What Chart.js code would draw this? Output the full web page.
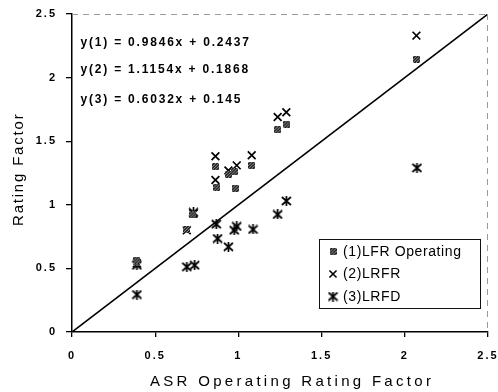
<!DOCTYPE html>
<html><head><meta charset="utf-8">
<script src="https://cdn.jsdelivr.net/npm/chart.js@4.4.1/dist/chart.umd.min.js"></script>
<style>html,body{margin:0;padding:0;background:#fff}#wrap{width:498px;height:392px;position:relative}</style>
</head><body><div id="wrap"><canvas id="c"></canvas></div>
<script>
// ---- data ----
const seriesNames = ['(1)LFR Operating', '(2)LRFR', '(3)LRFD'];
const lfrX = [0.39, 0.39, 0.687, 0.727, 0.862, 0.871, 0.94, 0.975, 0.98, 1.08, 1.236, 1.292, 2.07];
const lfrY = [0.55, 0.565, 0.806, 0.92, 1.30, 1.137, 1.24, 1.26, 1.13, 1.31, 1.59, 1.635, 2.145];
const lrfrX = [0.39, 0.69, 0.73, 0.862, 0.862, 0.94, 0.99, 1.08, 1.236, 1.288, 2.07];
const lrfrY = [0.54, 0.80, 0.93, 1.195, 1.382, 1.27, 1.31, 1.39, 1.69, 1.727, 2.33];
const lrfdX = [0.39, 0.39, 0.69, 0.737, 0.73, 0.867, 0.875, 0.94, 0.975, 0.99, 1.088, 1.236, 1.288, 2.073];
const lrfdY = [0.294, 0.525, 0.512, 0.525, 0.94, 0.848, 0.735, 0.67, 0.80, 0.83, 0.806, 0.924, 1.03, 1.29];
const lineX = [0, 2.5];
const lineY = [0, 2.5];
const tickLabels = ['0', '0.5', '1', '1.5', '2', '2.5'];
const equations = ['y(1) = 0.9846x + 0.2437', 'y(2) = 1.1154x + 0.1868', 'y(3) = 0.6032x + 0.145'];
const xTitle = 'ASR Operating Rating Factor';
const yTitle = 'Rating Factor';

const pts = (xs, ys) => xs.map((x, i) => ({x, y: ys[i]}));

// ---- marker images ----
function mk(w, h, draw) { const c = document.createElement('canvas'); c.width = w; c.height = h; draw(c.getContext('2d')); return c; }
const lfrMarker = mk(7, 7, g => {
  g.fillStyle = '#222'; g.fillRect(0, 0, 7, 7);
  g.fillStyle = '#999';
  for (let i = 0; i < 7; i++) for (let j = 0; j < 7; j++) if ((i + j) % 3 === 0) g.fillRect(i, j, 1, 1);
});
const lrfdMarker = mk(11, 10, g => {
  g.strokeStyle = '#000'; g.lineWidth = 1.7; g.lineCap = 'butt';
  g.beginPath();
  g.moveTo(1, 1); g.lineTo(10, 9);
  g.moveTo(10, 1); g.lineTo(1, 9);
  g.moveTo(5.5, 0); g.lineTo(5.5, 10);
  g.stroke();
});

// ---- decorations plugin ----
const deco = {
  id: 'deco',
  beforeDraw(chart) { chart.ctx.letterSpacing = '2px'; },
  afterDraw(chart) {
    const ctx = chart.ctx, a = chart.chartArea;
    ctx.save();
    // faint dashed top/right frame
    ctx.strokeStyle = '#9a9a9a'; ctx.lineWidth = 1; ctx.setLineDash([6, 5]);
    ctx.beginPath(); ctx.moveTo(a.left, a.top + 0.5); ctx.lineTo(a.right, a.top + 0.5);
    ctx.moveTo(a.right - 0.5, a.top); ctx.lineTo(a.right - 0.5, a.bottom); ctx.stroke();
    ctx.setLineDash([]);
    // equations
    ctx.fillStyle = '#000'; ctx.font = 'bold 12px "Liberation Sans", Arial, sans-serif';
    ctx.letterSpacing = '1.8px'; ctx.textBaseline = 'middle'; ctx.textAlign = 'left';
    const eqY = [42.7, 69.3, 100];
    equations.forEach((t, i) => ctx.fillText(t, 80.5, eqY[i]));
    // legend
    ctx.strokeStyle = '#111'; ctx.lineWidth = 1;
    ctx.strokeRect(319.5, 239.5, 161, 69);
    ctx.font = '14px "Liberation Sans", Arial, sans-serif'; ctx.letterSpacing = '0.6px';
    const ly = [251.5, 274, 296.5];
    seriesNames.forEach((n, i) => {
      const ds = chart.data.datasets[i];
      const ps = ds.pointStyle;
      if (ps instanceof HTMLCanvasElement) ctx.drawImage(ps, 333 - ps.width / 2, ly[i] - ps.height / 2);
      else { ctx.strokeStyle = '#000'; ctx.lineWidth = 1.6; Chart.helpers.drawPoint(ctx, {pointStyle: ps, radius: 5, borderWidth: 1.6}, 333, ly[i]); }
      ctx.fillStyle = '#000'; ctx.fillText(n, 343, ly[i] + 0.5);
    });
    // axis titles
    ctx.font = '15px "Liberation Sans", Arial, sans-serif'; ctx.letterSpacing = '3.3px';
    ctx.fillText(xTitle, 150, 381.5);
    ctx.save(); ctx.translate(18.8, 226); ctx.rotate(-Math.PI / 2);
    ctx.letterSpacing = '1.8px';
    ctx.fillText(yTitle, 0, 0);
    ctx.restore();
    ctx.restore();
    ctx.letterSpacing = '0px';
  }
};

const tickCb = function(v) { const i = Math.round(v / 0.5); return tickLabels[i]; };
const tickFont = { family: '"Liberation Sans", Arial, sans-serif', size: 11, weight: 'bold' };

new Chart(document.getElementById('c'), {
  type: 'scatter',
  data: {
    datasets: [
      { label: seriesNames[0], data: pts(lfrX, lfrY), pointStyle: lfrMarker, pointRadius: 4, backgroundColor: '#333', borderColor: '#333' },
      { label: seriesNames[1], data: pts(lrfrX, lrfrY), pointStyle: 'crossRot', pointRadius: 5.5, borderWidth: 1.7, backgroundColor: '#000', borderColor: '#000' },
      { label: seriesNames[2], data: pts(lrfdX, lrfdY), pointStyle: lrfdMarker, pointRadius: 5, backgroundColor: '#000', borderColor: '#000' },
      { label: 'line', type: 'line', data: pts(lineX, lineY), showLine: true, pointRadius: 0, borderColor: '#000', borderWidth: 1.6, fill: false }
    ]
  },
  options: {
    responsive: true, maintainAspectRatio: false, animation: false,
    layout: { padding: { left: 0, right: 10, top: 14, bottom: 0 } },
    plugins: { legend: { display: false }, tooltip: { enabled: false } },
    scales: {
      x: {
        type: 'linear', min: 0, max: 2.5,
        ticks: { stepSize: 0.5, callback: tickCb, color: '#000', font: tickFont, padding: 12, maxRotation: 0 },
        grid: { drawOnChartArea: false, drawTicks: true, tickLength: 5, color: '#000', lineWidth: 1.3 },
        border: { display: true, color: '#000', width: 1.5 },
        afterFit(s) { s.height = 60; s.paddingLeft = 0; s.paddingRight = 0; }
      },
      y: {
        type: 'linear', min: 0, max: 2.5,
        ticks: { stepSize: 0.5, callback: tickCb, color: '#000', font: tickFont, padding: 9, },
        grid: { drawOnChartArea: false, drawTicks: true, tickLength: 6, color: '#000', lineWidth: 1.3 },
        border: { display: true, color: '#000', width: 1.5 },
        afterFit(s) { s.width = 72; s.paddingTop = 0; s.paddingBottom = 0; }
      }
    }
  },
  plugins: [deco]
});
</script></body></html>
